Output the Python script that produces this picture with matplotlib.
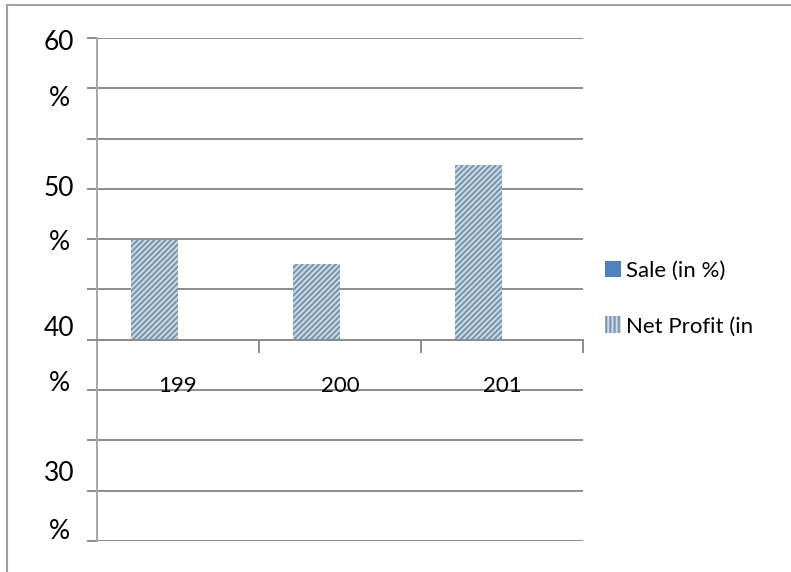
import numpy as np
import matplotlib.pyplot as plt
from matplotlib.patches import Patch
from matplotlib.lines import Line2D

plt.rcParams['font.family'] = ['Lato', 'DejaVu Sans']
plt.rcParams['hatch.linewidth'] = 1.5

# data
years = ["199", "200", "201"]
sale = [np.nan, np.nan, np.nan]          # no sale values plotted
net_profit = [46.6, 45.0, 51.6]
axis_labels = ["60", "50", "40", "30"]

grid_color = "#8c8c8c"
spine_color = "#a6a6a6"

fig = plt.figure(figsize=(7.91, 5.72), dpi=100)
ax = fig.add_axes([0.1226, 0.0542, 0.6144, 0.8794])

step = 10 / 3
y_top, y_bottom = 60, 60 - 10 * step
x = np.arange(len(years))
width = 0.29

ax.bar(x - width / 2, sale, width, color="#4f81bd", label="Sale (in %)")
ax.bar(x - width / 2, np.array(net_profit) - 40, width, bottom=40,
       facecolor="#c9ddf2", edgecolor="#8094a6", hatch="//////", linewidth=0,
       label="Net Profit (in", zorder=2)

ax.set_xlim(-0.5, len(years) - 0.5)
ax.set_ylim(y_bottom, y_top)

# gridlines every third of ten percent
ticks = np.linspace(y_top, y_bottom, 11)
ax.set_yticks(ticks)
ax.set_yticklabels([])
ax.grid(axis="y", color=grid_color, linewidth=1.4, zorder=1)
ax.tick_params(axis="y", direction="out", length=7, width=1.4, color=grid_color)

# category axis crosses at 40 %
ax.spines["bottom"].set_position(("data", 40))
ax.spines["bottom"].set_color(grid_color)
ax.spines["bottom"].set_linewidth(1.4)
ax.set_xticks(np.arange(len(years)) + 0.5)
ax.set_xticklabels([])
ax.tick_params(axis="x", direction="out", length=9, width=1.4, color=grid_color)
ax.spines["left"].set_color(spine_color)
ax.spines["left"].set_linewidth(1.4)
for s in ["top", "right"]:
    ax.spines[s].set_visible(False)

for i, yr in enumerate(years):
    ax.text(i, 40 - 3.06, yr, ha="center", va="center", fontsize=16)

# wrapped value labels ("60" over "%")
label_offsets = [(-0.27, -3.72), (0.03, -3.59), (0.73, -3.65), (1.16, -3.86)]
ytrans = ax.get_yaxis_transform()
for lab, val, (d1, d2) in zip(axis_labels, [60, 50, 40, 30], label_offsets):
    ax.text(-0.078, val + d1, lab, transform=ytrans, ha="center", va="center", fontsize=19)
    ax.text(-0.078, val + d1 + d2, "%", transform=ytrans, ha="center", va="center", fontsize=19)

handles, labels = ax.get_legend_handles_labels()
handles = [Patch(facecolor="#4f81bd", edgecolor="none"),
           Patch(facecolor="#c9ddf2", edgecolor="#8094a6", hatch="||||", linewidth=0)]
fig.legend(handles, labels, loc="center left", bbox_to_anchor=(0.739, 0.478),
           frameon=False, fontsize=16, handlelength=0.75, handleheight=0.75,
           handletextpad=0.2, labelspacing=1.6)

# outer chart border (top and left only)
fig.add_artist(Line2D([0.009, 1.0], [0.991, 0.991], color="#a0a0a0", linewidth=1.5))
fig.add_artist(Line2D([0.009, 0.009], [0.0, 0.991], color="#a0a0a0", linewidth=1.5))

plt.savefig("out.png", dpi=100)
